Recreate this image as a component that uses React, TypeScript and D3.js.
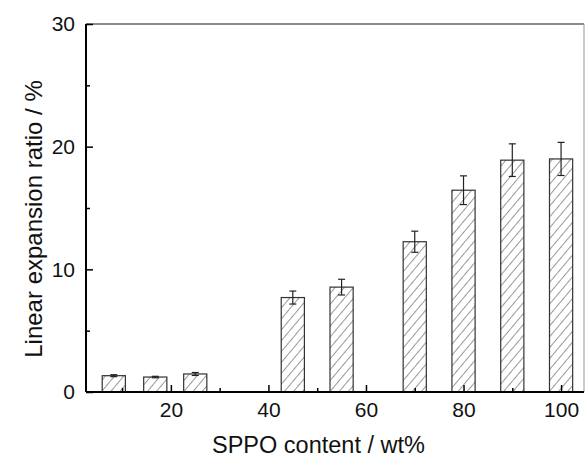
import React, { useEffect, useRef } from "react";
import * as d3 from "d3";

// SPPO content (wt%) for each bar
const contents = [8.3, 16.8, 25, 45, 55, 70, 80, 90, 100];
// linear expansion ratio (%)
const ratios = [1.33, 1.22, 1.47, 7.7, 8.55, 12.25, 16.45, 18.9, 19.0];
// error (+/-)
const errors = [0.08, 0.06, 0.12, 0.53, 0.64, 0.86, 1.17, 1.33, 1.35];

const xTicks = [20, 40, 60, 80, 100];
const xMinor = [10, 30, 50, 70, 90];
const yTicks = [0, 10, 20, 30];
const yMinor = [5, 15, 25];

const App = () => {
  const ref = useRef<SVGSVGElement>(null);

  useEffect(() => {
    const svg = d3.select(ref.current);
    svg.selectAll("*").remove();

    const left = 86, right = 584, top = 24, bottom = 392;
    const x = d3.scaleLinear().domain([2.6, 104.7]).range([left, right]);
    const y = d3.scaleLinear().domain([0, 30]).range([bottom, top]);
    const font = "'Liberation Sans', Arial, sans-serif";

    // hatch pattern
    const defs = svg.append("defs");
    const pat = defs.append("pattern")
      .attr("id", "hatch")
      .attr("patternUnits", "userSpaceOnUse")
      .attr("width", 7)
      .attr("height", 7)
      .attr("patternTransform", "rotate(40)");
    pat.append("rect").attr("width", 7).attr("height", 7).attr("fill", "white");
    pat.append("line")
      .attr("x1", 0).attr("y1", 0).attr("x2", 0).attr("y2", 7)
      .attr("stroke", "#333").attr("stroke-width", 1);

    const barW = x(4.75) - x(0);

    // bars
    svg.append("g")
      .selectAll("rect")
      .data(contents)
      .enter()
      .append("rect")
      .attr("x", (d) => x(d) - barW / 2)
      .attr("y", (d, i) => y(ratios[i]))
      .attr("width", barW)
      .attr("height", (d, i) => y(0) - y(ratios[i]))
      .attr("fill", "url(#hatch)")
      .attr("stroke", "#333")
      .attr("stroke-width", 1.2);

    // error bars
    const eb = svg.append("g").attr("stroke", "#222").attr("stroke-width", 1.2);
    contents.forEach((c, i) => {
      const cx = x(c);
      const y1 = y(ratios[i] + errors[i]);
      const y2 = y(ratios[i] - errors[i]);
      eb.append("line").attr("x1", cx).attr("x2", cx).attr("y1", y1).attr("y2", y2);
      eb.append("line").attr("x1", cx - 3.5).attr("x2", cx + 3.5).attr("y1", y1).attr("y2", y1);
      eb.append("line").attr("x1", cx - 3.5).attr("x2", cx + 3.5).attr("y1", y2).attr("y2", y2);
    });

    // frame
    svg.append("line").attr("x1", left).attr("x2", right).attr("y1", top).attr("y2", top)
      .attr("stroke", "#666").attr("stroke-width", 1.5);
    svg.append("line").attr("x1", right).attr("x2", right).attr("y1", top).attr("y2", bottom)
      .attr("stroke", "#999").attr("stroke-width", 1);

    // x axis (inward ticks)
    const xg = svg.append("g").attr("transform", `translate(0,${bottom})`);
    xg.call(d3.axisBottom(x).tickValues(xTicks).tickSize(-7).tickSizeOuter(0).tickPadding(10));
    xg.selectAll(".tick text").attr("font-size", 21).attr("font-family", font).attr("fill", "#111");
    xg.selectAll(".tick line").attr("stroke-width", 1.5);
    xg.select(".domain").attr("stroke-width", 2).attr("d", `M${left},0H${right}`);
    svg.append("g").attr("transform", `translate(0,${bottom})`)
      .call(d3.axisBottom(x).tickValues(xMinor).tickSize(-4).tickFormat(() => ""))
      .call((g) => g.select(".domain").remove())
      .selectAll(".tick line").attr("stroke-width", 1.5);

    // y axis (inward ticks)
    const yg = svg.append("g").attr("transform", `translate(${left},0)`);
    yg.call(d3.axisLeft(y).tickValues(yTicks).tickSize(-7).tickSizeOuter(0).tickPadding(11));
    yg.selectAll(".tick text").attr("font-size", 21).attr("font-family", font).attr("fill", "#111");
    yg.selectAll(".tick line").attr("stroke-width", 1.5);
    yg.select(".domain").attr("stroke-width", 2).attr("d", `M0,${top}V${bottom}`);
    svg.append("g").attr("transform", `translate(${left},0)`)
      .call(d3.axisLeft(y).tickValues(yMinor).tickSize(-4).tickFormat(() => ""))
      .call((g) => g.select(".domain").remove())
      .selectAll(".tick line").attr("stroke-width", 1.5);

    // axis titles
    svg.append("text")
      .attr("x", 212)
      .attr("y", 453)
      .attr("text-anchor", "start")
      .attr("font-family", font)
      .attr("font-size", 23.5)
      .attr("fill", "#111")
      .text("SPPO content / wt%");
    svg.append("text")
      .attr("transform", "translate(42,219) rotate(-90)")
      .attr("text-anchor", "middle")
      .attr("font-family", font)
      .attr("font-size", 24)
      .attr("fill", "#111")
      .text("Linear expansion ratio / %");
  }, []);

  return (
    <svg
      ref={ref}
      width={585}
      height={459}
      style={{ position: "absolute", left: 0, top: 0, background: "white" }}
    />
  );
};

export default App;
